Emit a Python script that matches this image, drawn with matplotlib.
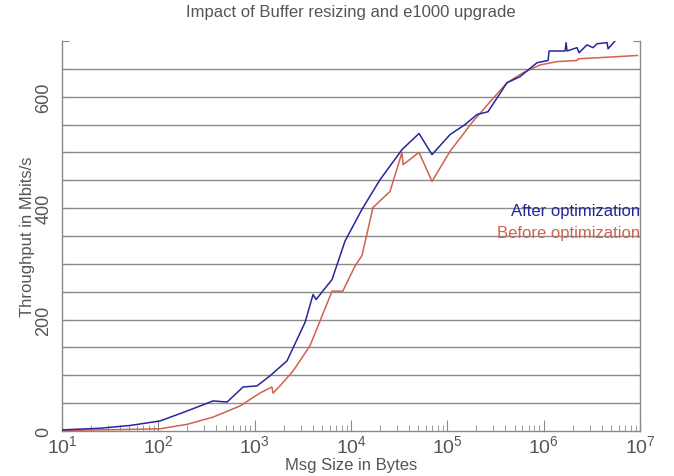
import matplotlib
matplotlib.use("Agg")
import matplotlib.pyplot as plt
import matplotlib.transforms as mtransforms
from matplotlib.ticker import LogLocator, FixedLocator, FuncFormatter, LogFormatterSciNotation

plt.rcParams['font.family'] = ['Liberation Sans', 'DejaVu Sans']
plt.rcParams['mathtext.fontset'] = 'custom'
plt.rcParams['mathtext.rm'] = 'Liberation Sans'
plt.rcParams['mathtext.it'] = 'Liberation Sans'

# Throughput (Mbits/s) versus message size (bytes)
after_sizes = [10, 25, 51, 104, 199, 370, 517, 757, 1058, 1443, 2166, 3334, 4036, 4337,
               6358, 8670, 13000, 20000, 33800, 50800, 69300, 106600, 152700, 203000,
               264000, 416000, 568000, 853000, 1110000, 1137000, 1667000, 1708000,
               1748000, 2218000, 2327000, 2818000, 3253000, 3579000, 4547000, 4659000,
               5503000]
after_mbits = [2, 5, 10, 18, 36, 54, 52, 79, 81, 99, 126, 195, 245, 236,
               272, 341, 398, 451, 505, 534, 496, 532, 550, 568,
               573, 625, 636, 661, 665, 682, 682, 697,
               682, 688, 679, 693, 688, 695, 697, 686,
               700]

before_sizes = [10, 25, 51, 104, 199, 370, 705, 1130, 1510, 1550, 1830, 2510, 3750, 4990,
                6358, 8210, 10990, 13000, 16890, 25400, 33800, 34700, 50800, 69300,
                106600, 135000, 183000, 278000, 416000, 610000, 918000, 1380000,
                2218000, 2270000, 3770000, 9420000]
before_mbits = [1, 2, 3, 4, 12, 25, 45, 68, 79, 68, 81, 108, 153, 206,
                251, 251, 296, 315, 401, 430, 500, 478, 500, 448,
                502, 525, 555, 591, 625, 643, 657, 663,
                665, 668, 670, 674]

title = "Impact of Buffer resizing and e1000 upgrade"
x_label = "Msg Size in Bytes"
y_label = "Throughput in Mbits/s"
after_label = "After optimization"
before_label = "Before optimization"
x_decades = [1e1, 1e2, 1e3, 1e4, 1e5, 1e6, 1e7]
y_labeled = [0, 200, 400, 600]

blue = "#26269e"
red = "#cf6250"
gray_text = "#555555"
grid_gray = "#8a8a8a"

fig = plt.figure(figsize=(6.74, 4.77), dpi=100)
ax = fig.add_axes([0.092, 0.0943, 0.8576, 0.8177])

ax.plot(before_sizes, before_mbits, color=red, lw=1.1, zorder=3)
ax.plot(after_sizes, after_mbits, color=blue, lw=1.1, zorder=4)

ax.set_xscale('log')
ax.set_xlim(x_decades[0], x_decades[-1])
ax.set_ylim(0, 700)

ax.xaxis.set_major_locator(FixedLocator(x_decades))
ax.xaxis.set_major_formatter(LogFormatterSciNotation())
ax.xaxis.set_minor_locator(LogLocator(base=10, subs=range(2, 10), numticks=100))

ax.yaxis.set_major_locator(FixedLocator(list(range(0, 701, 50))))
ax.yaxis.set_major_formatter(FuncFormatter(lambda v, p: f"{int(v)}" if int(v) in y_labeled else ""))

ax.grid(True, axis='y', color=grid_gray, lw=1.0, zorder=1)
for val, gl in zip(range(0, 701, 50), ax.get_ygridlines()):
    if val in (0, 700):
        gl.set_visible(False)

for side in ('left', 'right', 'bottom'):
    ax.spines[side].set_color(grid_gray)
    ax.spines[side].set_linewidth(1.0)
ax.spines['top'].set_visible(False)

ax.tick_params(axis='x', which='major', direction='in', length=8, color=grid_gray,
               labelsize=14, labelcolor=gray_text, pad=2)
ax.tick_params(axis='x', which='minor', direction='in', length=4, color=grid_gray)
ax.tick_params(axis='y', which='major', direction='in', length=5, color=grid_gray,
               labelsize=13, labelcolor=gray_text, left=True, right=True, pad=7)
for lbl in ax.get_yticklabels():
    lbl.set_rotation(90)
    lbl.set_va('center')

ax.set_title(title, fontsize=12, color=gray_text, pad=18)
ax.set_xlabel(x_label, fontsize=12, color=gray_text, labelpad=1)
ax.set_ylabel(y_label, fontsize=12, color=gray_text, labelpad=0)

trans = mtransforms.blended_transform_factory(ax.transAxes, ax.transData)
ax.text(1.0, 396, after_label, transform=trans, ha='right', va='center',
        fontsize=12, color=blue, zorder=5)
ax.text(1.0, 356, before_label, transform=trans, ha='right', va='center',
        fontsize=12, color=red, zorder=5)

fig.savefig("out.png", dpi=100, facecolor='white')
